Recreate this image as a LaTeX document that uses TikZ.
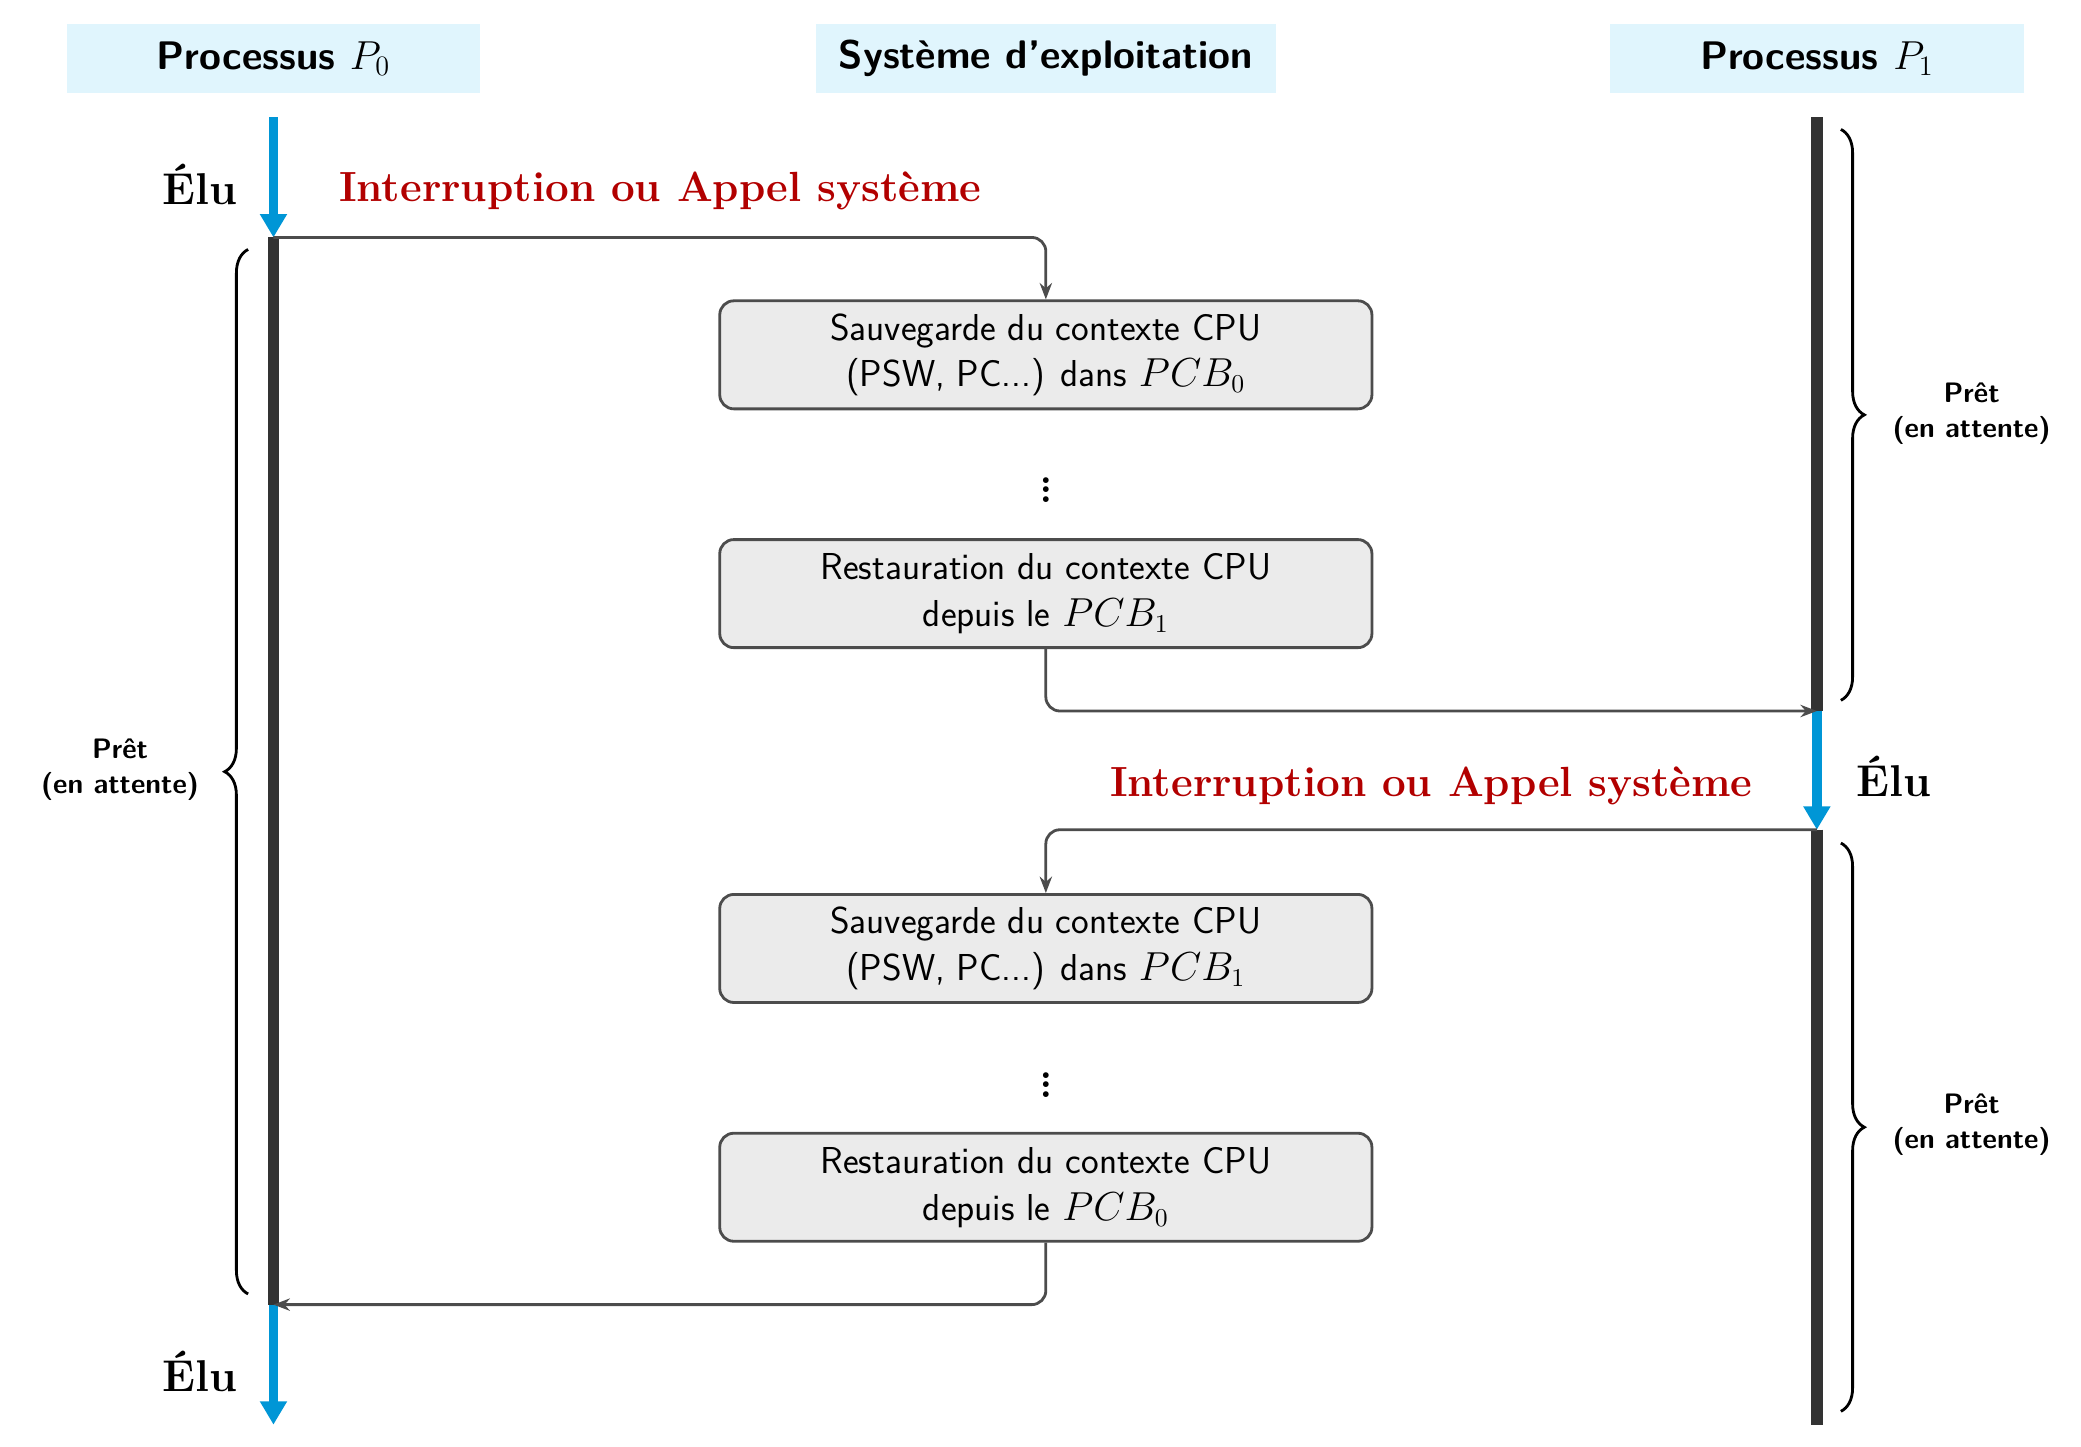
\documentclass[tikz,border=0pt]{standalone}
\usetikzlibrary{arrows.meta,decorations.pathreplacing}
\definecolor{bl}{HTML}{0096D6}
\begin{document}
\begin{tikzpicture}[x=0.02cm,y=-0.02cm,
  hdr/.style={fill=cyan!12,minimum width=6.2cm,minimum height=1.04cm,font=\fontsize{17}{20}\selectfont\sffamily\bfseries},
  box/.style={draw=black!70,line width=1.2pt,rounded corners=6pt,fill=black!8,minimum width=9.78cm,minimum height=1.62cm,align=center,font=\fontsize{16}{20}\selectfont\sffamily},
  elu/.style={font=\fontsize{19}{22}\selectfont\bfseries},
  red/.style={text=red!70!black,font=\fontsize{18}{22}\selectfont\bfseries},
  pret/.style={align=center,font=\fontsize{12}{15}\selectfont\sffamily\bfseries},
  act/.style={line width=4pt,draw=bl,-{Triangle[length=10pt,width=11pt]}},
  wait/.style={line width=5pt,draw=black!80},
  conn/.style={draw=black!70,line width=1.2pt,rounded corners=6pt,-{Stealth[length=7pt]}},
  dots/.style={inner sep=0pt,font=\fontsize{30}{30}\selectfont},
  br/.style={draw=black,line width=1.2pt,decorate,decoration={brace,amplitude=10pt}}]
\useasboundingbox (0,0) rectangle (1560,1084);
\node[hdr] (h0) at (205,44) {Processus $P_0$};
\node[hdr,minimum width=6.9cm] (hs) at (784,44) {Système d'exploitation};
\node[hdr] (h1) at (1362,44) {Processus $P_1$};
\coordinate (a0) at (205,88); \coordinate (a1) at (205,178);
\coordinate (a2) at (205,978); \coordinate (a3) at (205,1068);
\coordinate (b0) at (1362,88); \coordinate (b1) at (1362,533);
\coordinate (b2) at (1362,622); \coordinate (b3) at (1362,1068);
\draw[wait] (a1) -- (a2);
\draw[wait] (b0) -- (b1);
\draw[wait] (b2) -- (b3);
\draw[act] (a0) -- (a1);
\draw[act] (a2) -- (a3);
\draw[act] (b1) -- (b2);
\node[elu] (e1) at (150,138) {Élu};
\node[elu] (e2) at (1420,582) {Élu};
\node[elu] (e3) at (150,1028) {Élu};
\node[red] (r1) at (495,143) {Interruption ou Appel système};
\node[red] (r2) at (1073,589) {Interruption ou Appel système};
\node[box] (s0) at (784,266) {Sauvegarde du contexte CPU\\(PSW, PC...) dans $PCB_0$};
\node[dots] (d1) at (784,362) {$\vdots$};
\node[box] (r11) at (784,445) {Restauration du contexte CPU\\depuis le $PCB_1$};
\node[box] (s1) at (784,711) {Sauvegarde du contexte CPU\\(PSW, PC...) dans $PCB_1$};
\node[dots] (d2) at (784,808) {$\vdots$};
\node[box] (r00) at (784,890) {Restauration du contexte CPU\\depuis le $PCB_0$};
\draw[conn] (a1) -| (s0.north);
\draw[conn] (r11.south) |- (b1);
\draw[conn] (b2) -| (s1.north);
\draw[conn] (r00.south) |- (a2);
\draw[br] (186,970) -- (186,187);
\draw[br] (1380,97) -- (1380,525);
\draw[br] (1380,632) -- (1380,1058);
\node[pret] (p0) at (90,577) {Prêt\\(en attente)};
\node[pret] (p1) at (1478,310) {Prêt\\(en attente)};
\node[pret] (p2) at (1478,843) {Prêt\\(en attente)};
\end{tikzpicture}
\end{document}
